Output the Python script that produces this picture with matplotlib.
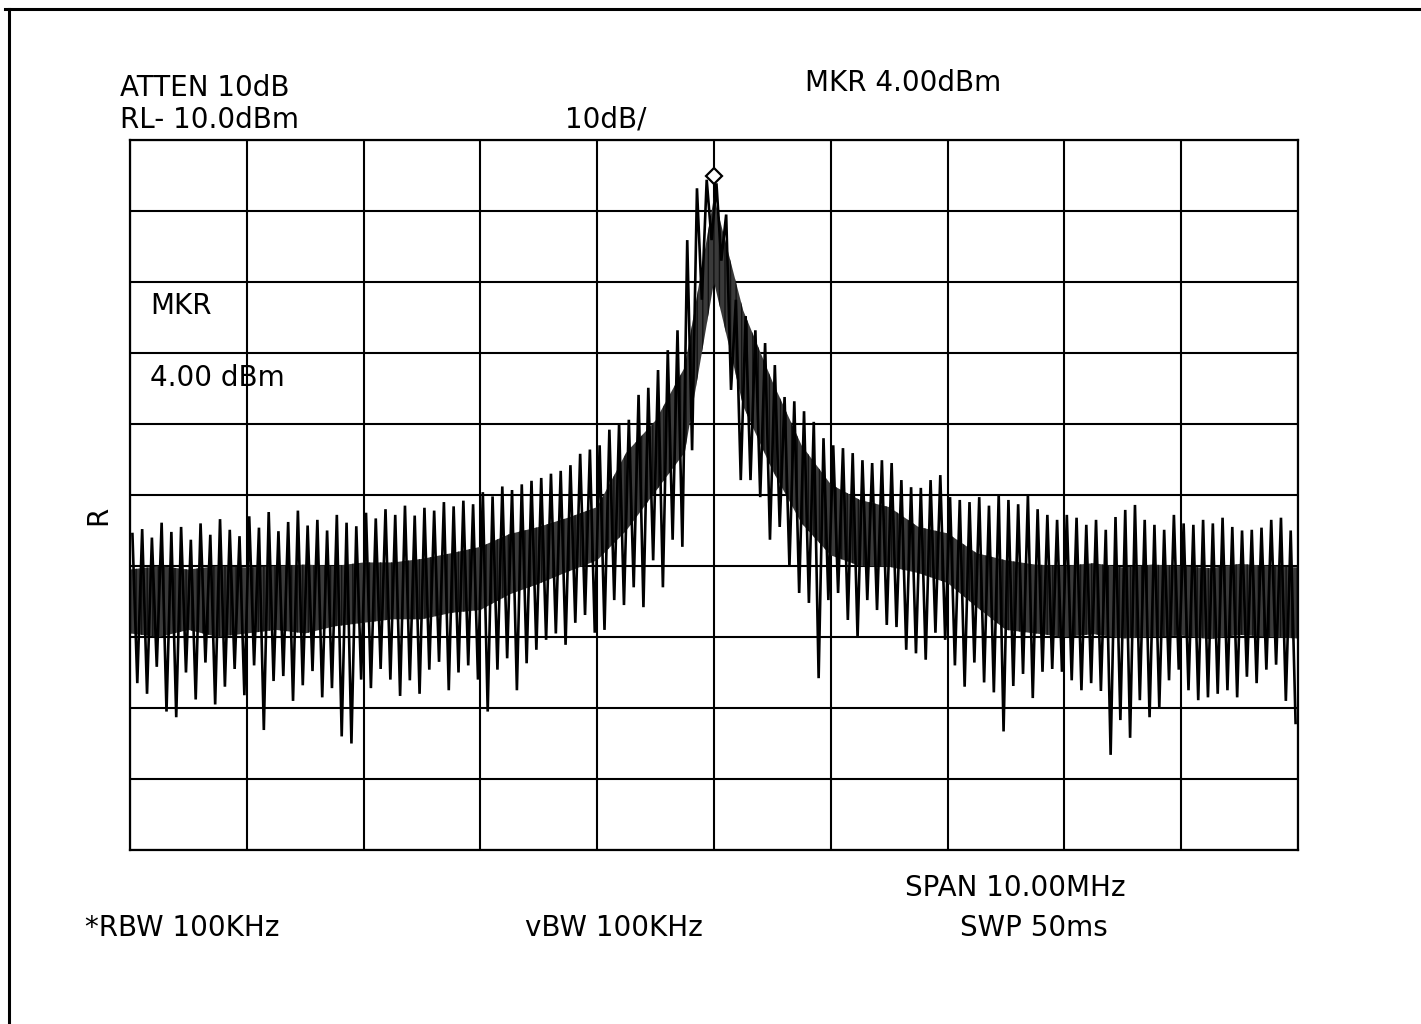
import matplotlib
matplotlib.use("Agg")
import matplotlib.pyplot as plt
import numpy as np

# ---------------- data ----------------
center_mhz = 0.0
span_mhz = 10.0
ref_level_dbm = 10.0
db_per_div = 10.0
marker_dbm = 5.0

# peak-hold trace: upper and lower excursions, 12 samples per division
trace_top_dbm = [
    -45.5, -44.8, -46.0, -43.9, -45.2, -44.5, -46.3, -44.0, -45.6, -43.4, -44.9, -45.8,
    -43.0, -44.6, -42.4, -45.1, -43.8, -42.2, -44.3, -43.5, -45.0, -42.8, -43.9, -44.4,
    -42.5, -43.3, -42.0, -42.8, -41.5, -42.9, -41.8, -42.2, -41.0, -41.6, -40.8, -41.3,
    -39.6, -40.2, -38.8, -39.3, -38.5, -38.0, -37.6, -37.0, -36.6, -35.8, -34.2, -33.6,
    -33.0, -30.8, -29.9, -29.4, -25.9, -24.9, -22.4, -19.6, -16.8, -4.1, 3.2, 4.4,
    3.9, -0.5, -12.5, -14.8, -16.8, -18.6, -21.7, -26.2, -26.8, -28.2, -29.7, -32.0,
    -33.0, -33.4, -34.1, -35.1, -35.5, -35.1, -35.5, -37.9, -38.9, -39.0, -37.9, -37.2,
    -40.3, -40.7, -41.0, -40.3, -41.5, -39.9, -40.7, -41.3, -40.0, -42.0, -42.8, -43.5,
    -42.8, -43.2, -44.2, -43.5, -44.9, -43.1, -42.1, -41.4, -43.5, -44.2, -44.9, -42.8,
    -44.0, -44.2, -43.5, -44.0, -43.2, -44.5, -45.0, -44.9, -44.6, -43.5, -43.2, -45.0,
]
trace_bottom_dbm = [
    -66.5, -68.0, -64.2, -70.5, -71.3, -65.0, -68.8, -63.6, -69.5, -67.0, -64.5, -68.2,
    -64.0, -73.1, -66.2, -65.5, -69.0, -66.8, -64.8, -68.5, -67.2, -74.0, -75.0, -66.0,
    -67.2, -64.5, -66.0, -68.3, -66.1, -68.0, -64.6, -63.5, -67.5, -65.0, -64.0, -66.0,
    -70.5, -64.6, -63.0, -67.5, -63.7, -61.8, -60.4, -59.5, -61.1, -58.0, -56.9, -59.4,
    -59.0, -54.8, -55.5, -53.0, -55.8, -49.2, -53.0, -46.3, -47.3, -33.7, -12.5, -4.1,
    -7.0, -25.2, -37.9, -37.9, -40.3, -46.3, -44.5, -50.1, -53.8, -55.2, -65.8, -54.8,
    -53.8, -57.6, -60.1, -54.8, -56.2, -58.3, -58.6, -61.8, -62.3, -63.2, -59.4, -60.4,
    -64.0, -67.0, -63.6, -66.4, -67.8, -73.3, -66.9, -65.2, -68.6, -64.9, -64.5, -64.9,
    -66.1, -67.5, -66.5, -67.6, -76.6, -71.7, -74.2, -68.9, -71.3, -69.9, -66.1, -64.6,
    -67.5, -68.9, -68.5, -68.0, -67.5, -68.5, -65.6, -66.5, -64.6, -63.9, -69.0, -72.1,
]
# dense core of the noise trace, every quarter division
band_hi_dbm = [
    -50.5, -50.0, -50.5, -50.0, -50.2, -50.0, -49.8, -50.0, -49.5, -49.5, -49.0,
    -48.2, -47.3, -45.5, -44.5, -43.2, -41.7, -34.0, -29.5, -22.0, 2.0, -14.0,
    -24.0, -33.0, -38.5, -40.7, -41.7, -44.5, -45.4, -48.2, -49.2, -49.8, -50.0,
    -49.6, -50.2, -49.8, -50.0, -50.3, -49.7, -50.0, -50.2,
]
band_lo_dbm = [
    -59.5, -60.0, -59.0, -60.0, -59.5, -59.0, -59.5, -58.5, -58.0, -57.5, -57.5,
    -56.6, -56.2, -54.0, -52.5, -50.8, -49.2, -45.0, -39.5, -34.0, -10.0, -27.5,
    -36.5, -44.0, -48.5, -50.0, -50.1, -51.0, -52.4, -55.8, -59.0, -59.5, -60.0,
    -59.6, -60.2, -60.0, -59.8, -60.3, -59.7, -60.0, -60.2,
]

W, H = 1421, 1024
fig = plt.figure(figsize=(W / 100, H / 100), dpi=100)
fig.patch.set_facecolor("white")

# figure frame
fig.add_artist(plt.Line2D([5 / W, 1.0], [1 - 9 / H, 1 - 9 / H], color="black", lw=2.2))
fig.add_artist(plt.Line2D([9 / W, 9 / W], [0.0, 1 - 9 / H], color="black", lw=2.2))

ax = fig.add_axes([130 / W, (H - 850) / H, 1168 / W, 710 / H])
f0 = center_mhz - span_mhz / 2
f1 = center_mhz + span_mhz / 2
bottom = ref_level_dbm - 10 * db_per_div
ax.set_xlim(f0, f1)
ax.set_ylim(bottom, ref_level_dbm)
ax.set_xticks(np.linspace(f0, f1, 11))
ax.set_yticks(np.linspace(bottom, ref_level_dbm, 11))
ax.tick_params(length=0, labelbottom=False, labelleft=False)
ax.grid(True, color="black", lw=1.5)
for s in ax.spines.values():
    s.set_linewidth(1.6)

n = len(trace_top_dbm)
step = span_mhz / n
ft = f0 + (np.arange(n) + 0.25) * step
fb = f0 + (np.arange(n) + 0.75) * step
xs = np.empty(2 * n)
ys = np.empty(2 * n)
xs[0::2], xs[1::2] = ft, fb
ys[0::2], ys[1::2] = trace_top_dbm, trace_bottom_dbm

band_f = np.linspace(f0, f1, len(band_hi_dbm))
ax.fill_between(band_f, band_lo_dbm, band_hi_dbm, facecolor="#3a3a3a",
                edgecolor="#111111", hatch="|||", lw=0, zorder=2)
ax.plot(xs, ys, color="black", lw=1.9, zorder=3, solid_joinstyle="miter")
ax.plot([center_mhz], [marker_dbm], marker="D", ms=8, mfc="white", mec="black",
        mew=1.6, zorder=4)

def t(x, y, s, **kw):
    kw.setdefault("fontsize", 20)
    fig.text(x / W, 1 - y / H, s, ha="left", va="center", family="DejaVu Sans",
             color="black", **kw)

t(120, 88, "ATTEN 10dB")
t(120, 120, "RL- 10.0dBm")
t(565, 120, "10dB/")
t(805, 83, "MKR 4.00dBm")
t(150, 306, "MKR")
t(150, 378, "4.00 dBm")
t(84, 515, "R", rotation=90)
t(905, 888, "SPAN 10.00MHz")
t(85, 928, "*RBW 100KHz")
t(525, 928, "vBW 100KHz")
t(960, 928, "SWP 50ms")

fig.savefig("out.png", dpi=100)
